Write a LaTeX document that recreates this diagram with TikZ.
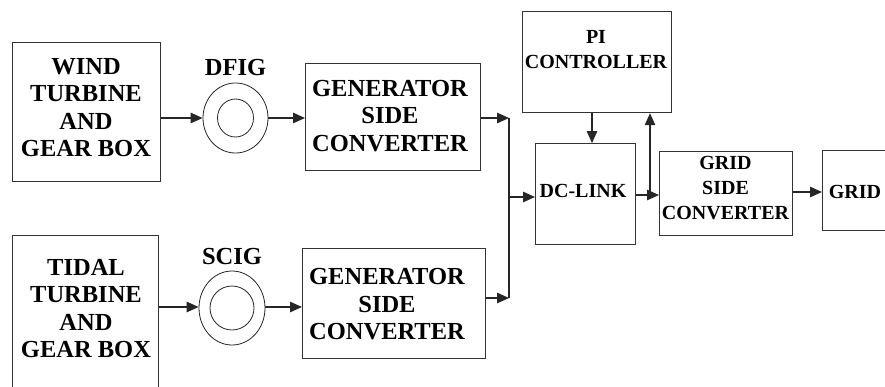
\documentclass[tikz,border=0pt]{standalone}
\usepackage{fontspec}
\setmainfont{Liberation Serif}
\usetikzlibrary{arrows.meta,shapes.geometric}
\begin{document}
\begin{tikzpicture}[x=1pt,y=-1pt,
  box/.style={draw=black!80,line width=1.2pt},
  big/.style={font=\fontsize{24.5}{27.5}\selectfont\bfseries,align=center,inner sep=0pt},
  small/.style={font=\fontsize{20}{25}\selectfont\bfseries,align=center,inner sep=0pt},
  gen/.style={draw=black!85,line width=0.8pt},
  arr/.style={draw=black!85,line width=1.2pt,-{Triangle[length=12pt,width=10.5pt]}},
  ln/.style={draw=black!85,line width=1.2pt}]
\useasboundingbox (0,0) rectangle (885,386);
\clip (0,0) rectangle (885,386);
% boxes
\node[box,minimum width=148pt,minimum height=139pt,anchor=north west] (wind) at (12,42) {};
\node[box,minimum width=146pt,minimum height=170pt,anchor=north west] (tidal) at (12,235) {};
\node[box,minimum width=175pt,minimum height=107pt,anchor=north west] (gsc1) at (305,63) {};
\node[box,minimum width=183pt,minimum height=110pt,anchor=north west] (gsc2) at (302,248) {};
\node[box,minimum width=149pt,minimum height=101pt,anchor=north west] (pi) at (522,11) {};
\node[box,minimum width=100pt,minimum height=101pt,anchor=north west] (dc) at (535,143) {};
\node[box,minimum width=133pt,minimum height=84pt,anchor=north west] (gconv) at (659,151) {};
\node[box,minimum width=100pt,minimum height=80pt,anchor=north west] (grid) at (822,150) {};
% texts
\node[big] (windT) at (86,107.5) {WIND\\TURBINE\\AND\\GEAR BOX};
\node[big] (tidalT) at (86,308.5) {TIDAL\\TURBINE\\AND\\GEAR BOX};
\node[big] (gsc1T) at (390,116) {GENERATOR\\SIDE\\CONVERTER};
\node[big] (gsc2T) at (387,304.5) {GENERATOR\\SIDE\\CONVERTER};
\node[small] (piT) at (596,49.5) {PI\\CONTROLLER};
\node[small] (dcT) at (583,191) {DC-LINK};
\node[small] (gconvT) at (725.5,188) {GRID\\SIDE\\CONVERTER};
\node[small] (gridT) at (855,192) {GRID};
% generators
\node[gen,ellipse,minimum width=65pt,minimum height=70pt,inner sep=0pt] (dfig) at (235.5,118) {};
\draw[gen] (dfig.center) ellipse [x radius=18pt,y radius=19pt];
\node[big] (dfigL) at (235.5,68) {DFIG};
\node[gen,ellipse,minimum width=66pt,minimum height=74pt,inner sep=0pt] (scig) at (232,308) {};
\draw[gen] (scig.center) ellipse [x radius=22pt,y radius=22pt];
\node[big] (scigL) at (232,257) {SCIG};
% connectors
\draw[arr] (wind.east |- 0,118) -- (dfig.west);
\draw[arr] (dfig.east) -- (gsc1.west |- 0,118);
\draw[arr] (tidal.east |- 0,307) -- (scig.west |- 0,307);
\draw[arr] (scig.east |- 0,307) -- (gsc2.west |- 0,307);
\coordinate (b1) at (509,118);
\coordinate (b2) at (509,298);
\coordinate (b3) at (509,197);
\draw[arr] (gsc1.east |- b1) -- (b1);
\draw[arr] (gsc2.east |- b2) -- (b2);
\draw[ln] (b1) -- (b2);
\draw[arr] (b3) -- (dc.west |- b3);
\coordinate (c1) at (650,195);
\draw[arr] (dc.east |- c1) -- (gconv.west |- c1);
\draw[arr] (c1) -- (pi.south -| c1);
\draw[arr] (pi.south -| 592,0) -- (dc.north -| 592,0);
\draw[arr] (gconv.east |- 0,192) -- (grid.west |- 0,192);
\end{tikzpicture}
\end{document}
